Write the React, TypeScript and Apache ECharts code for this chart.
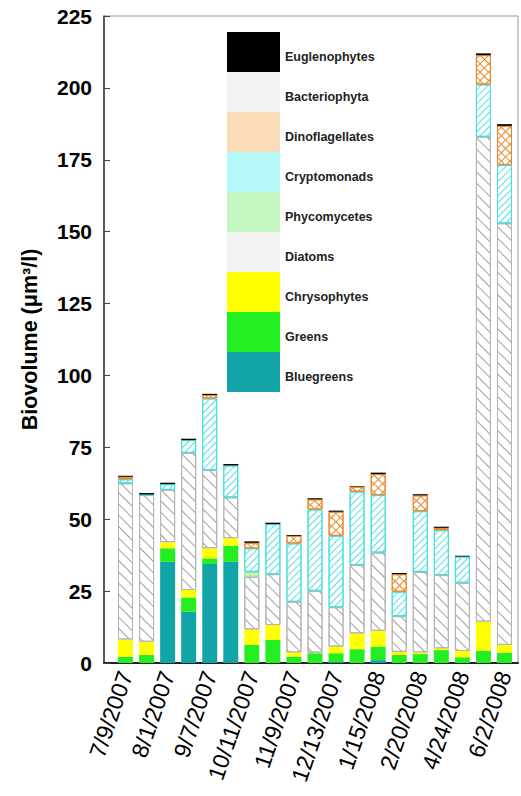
import React, { useEffect, useRef } from "react";
import * as echarts from "echarts";

const dateLabels = ["7/9/2007", "8/1/2007", "9/7/2007", "10/11/2007", "11/9/2007", "12/13/2007", "1/15/2008", "2/20/2008", "4/24/2008", "6/2/2008"];

const bluegreens = [0, 0, 35.2, 17.8, 34.4, 35.2, 0, 0, 0, 0, 0.3, 0, 1.0, 0, 0, 0, 0, 0, 0];
const greens = [2.2, 2.8, 4.7, 5.0, 2.0, 5.6, 6.3, 8.0, 2.2, 3.4, 3.1, 4.8, 4.7, 2.8, 3.1, 4.5, 2.0, 4.3, 3.6];
const chrysophytes = [6.0, 4.6, 2.1, 2.6, 3.5, 2.6, 5.4, 5.2, 1.5, 0.2, 2.3, 5.5, 5.5, 1.1, 0.6, 0.6, 2.2, 10.1, 2.7];
const diatoms = [54.3, 51.0, 18.2, 47.7, 27.2, 14.2, 18.3, 17.7, 17.6, 21.5, 13.7, 23.8, 27.2, 12.4, 28.0, 25.5, 23.7, 168.6, 146.6];
const phycomycetes = [0, 0, 0, 0, 0, 0, 1.7, 0, 0, 0, 0, 0, 0, 0, 0, 0, 0, 0, 0];
const cryptomonads = [1.4, 0.2, 2.0, 4.4, 24.9, 11.1, 8.2, 17.4, 20.3, 28.3, 24.8, 25.5, 20.0, 8.5, 21.1, 15.6, 9.1, 18.2, 20.3];
const dinoflagellates = [0.9, 0, 0, 0, 1.2, 0, 1.9, 0, 2.6, 3.5, 8.4, 1.7, 7.3, 6.1, 5.5, 0.8, 0, 10.2, 13.6];
const bacteriophyta = [0, 0, 0, 0, 0, 0, 0, 0, 0, 0, 0, 0, 0, 0, 0, 0, 0, 0, 0];
const euglenophytes = [0.3, 0.5, 0.5, 0.5, 0.4, 0.5, 0.5, 0.5, 0.3, 0.4, 0.4, 0.2, 0.5, 0.4, 0.4, 0.4, 0.3, 0.6, 0.6];

const yTicks = [0, 25, 50, 75, 100, 125, 150, 175, 200, 225];

const groupNames = ["Bluegreens", "Greens", "Chrysophytes", "Diatoms", "Phycomycetes", "Cryptomonads", "Dinoflagellates", "Bacteriophyta", "Euglenophytes"];
const groupValues = [bluegreens, greens, chrysophytes, diatoms, phycomycetes, cryptomonads, dinoflagellates, bacteriophyta, euglenophytes];

// one category per sample; only every other sample date is labelled
const categories = bluegreens.map((_, i) => (i % 2 === 0 ? dateLabels[i / 2] : ""));

const barStyles: any[] = [
  { color: "#13a4a8" },
  { color: "#22ee22" },
  { color: "#ffff00" },
  {
    color: "#ffffff", borderColor: "#b4b4b4", borderWidth: 1,
    decal: { symbol: "rect", symbolSize: 1, color: "#a0a0a0", dashArrayX: [1, 0], dashArrayY: [1, 7], rotation: Math.PI / 4 },
  },
  { color: "#c4f5bc", borderColor: "#8de08d", borderWidth: 1 },
  {
    color: "#ffffff", borderColor: "#44e0e0", borderWidth: 1,
    decal: { symbol: "rect", symbolSize: 1, color: "#55dede", dashArrayX: [1, 0], dashArrayY: [1, 3.5], rotation: -Math.PI / 4 },
  },
  {
    color: "#ffffff", borderColor: "#e8892a", borderWidth: 1,
    decal: {
      symbol: "rect", symbolSize: 1, color: "#e8892a",
      dashArrayY: [1, 0],
      dashArrayX: [[6, 0], [1, 5], [1, 5], [1, 5], [1, 5], [1, 5]],
      rotation: Math.PI / 4,
    },
  },
  { color: "#eeeeee" },
  { color: "#000000" },
];

const legendColors = ["#13a4a8", "#22ee22", "#ffff00", "#f2f2f2", "#c4f7c0", "#b4f8f8", "#fbdcb8", "#f2f2f2", "#000000"];

const FONT = "'Liberation Sans', Arial, sans-serif";

export default function App() {
  const ref = useRef<HTMLDivElement>(null);
  useEffect(() => {
    if (!ref.current) return;
    const chart = echarts.init(ref.current, null, { renderer: "svg" });
    const series = groupNames.map((name, k) => ({
      name,
      type: "bar",
      stack: "total",
      barWidth: 15,
      xAxisIndex: 1,
      yAxisIndex: 1,
      itemStyle: barStyles[k],
      data: groupValues[k].map((v) => (v > 0 ? v : "-")),
    }));

    const legendItems: any[] = [];
    const order = [...groupNames.keys()].reverse();
    order.forEach((k, j) => {
      legendItems.push({
        type: "rect",
        shape: { x: 0, y: j * 40, width: 53, height: 40 },
        style: { fill: legendColors[k] },
      });
      legendItems.push({
        type: "text",
        x: 58,
        y: j * 40 + 25,
        style: {
          text: groupNames[k],
          fill: "#222",
          font: `bold 12.5px ${FONT}`,
          textVerticalAlign: "middle",
        },
      });
    });

    chart.setOption({
      animation: false,
      grid: [
        { left: 104, top: 16, right: 3, bottom: 133, show: true, borderColor: "#999", borderWidth: 1 },
        { left: 115, top: 16, right: 6, bottom: 133 },
      ],
      xAxis: [
        {
          gridIndex: 0,
          type: "value",
          min: 0,
          max: 1,
          splitLine: { show: false },
          axisTick: { show: false },
          axisLabel: { show: false },
          axisLine: { show: true, lineStyle: { color: "#222", width: 2 } },
        },
        {
          gridIndex: 1,
          type: "category",
          data: categories,
          axisLine: { show: false },
          axisTick: { show: false },
          axisLabel: {
            interval: 0,
            rotate: 71,
            margin: 9,
            color: "#000",
            fontSize: 23,
            fontFamily: FONT,
          },
        },
      ],
      yAxis: [
        {
          gridIndex: 0,
          type: "value",
          min: yTicks[0],
          max: yTicks[yTicks.length - 1],
          interval: 25,
          name: "Biovolume (μm³/l)",
          nameLocation: "middle",
          nameGap: 63,
          nameTextStyle: { fontSize: 21.5, fontWeight: "bold", color: "#000", fontFamily: FONT },
          splitLine: { show: false },
          axisLine: { show: true, lineStyle: { color: "#333", width: 1.5 } },
          axisTick: { show: true, inside: true, length: 6, lineStyle: { color: "#444" } },
          axisLabel: { margin: 12, fontSize: 21, fontWeight: "bold", color: "#000", fontFamily: FONT },
        },
        {
          gridIndex: 1,
          type: "value",
          min: yTicks[0],
          max: yTicks[yTicks.length - 1],
          show: false,
          splitLine: { show: false },
        },
      ],
      graphic: [{ type: "group", left: 227, top: 32, children: legendItems }],
      series,
    });
    return () => chart.dispose();
  }, []);
  return <div ref={ref} style={{ width: 521, height: 796, position: "absolute", left: 0, top: 0 }} />;
}
